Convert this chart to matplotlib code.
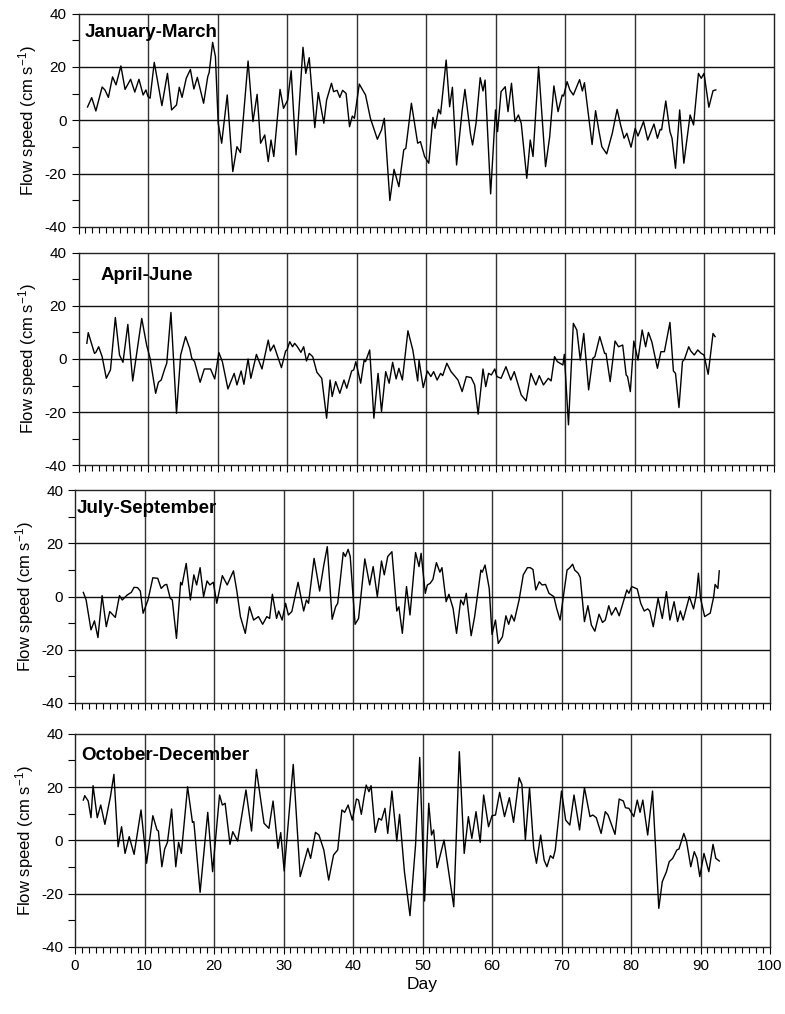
import matplotlib
matplotlib.use("Agg")
import matplotlib.pyplot as plt
from matplotlib.ticker import MultipleLocator

plt.rcParams['font.family'] = ['Liberation Sans', 'DejaVu Sans']
plt.rcParams['axes.unicode_minus'] = False
plt.rcParams['mathtext.fontset'] = 'custom'
plt.rcParams['mathtext.rm'] = 'Liberation Sans'
plt.rcParams['mathtext.it'] = 'Liberation Sans'
plt.rcParams['mathtext.default'] = 'regular'

# ---- data: (day, flow speed cm/s) ----
jan_mar = [(1.3,5),(1.9,8.5),(2.5,3.5),(3.4,12.5),(3.8,11.4),(4.3,8.6),(4.9,16.3),(5.4,13.3),(6.1,20.4),(6.7,11.6),
 (7.5,15.4),(8.1,10.6),(8.7,15.4),(9.3,9.5),(9.7,11.4),(10.0,8.9),(10.3,8.3),(10.9,21.75),(12.0,5.5),(12.8,17.6),
 (13.4,3.9),(14.1,5.75),(14.5,12.4),(14.9,8.6),(15.5,15.75),(16.1,19.1),(16.6,11.75),(17.1,16.1),(18.0,6.4),(18.6,16.4),
 (18.8,17.9),(19.3,29.25),(19.7,23.9),(20.1,-1.1),(20.6,-8.6),(21.4,9.5),(22.2,-19.25),(22.8,-9.9),(23.3,-12.1),(24.4,22.25),
 (25.1,-0.5),(25.7,9.75),(26.2,-8.6),(26.8,-5.5),(27.3,-15.5),(27.7,-7.4),(28.1,-13.6),(29.0,11.6),(29.5,4.5),(30.1,7.6),
 (30.6,18.6),(31.3,-13),(32.3,27.4),(32.7,17.6),(33.2,23.5),(34.0,-2.75),(34.5,10.4),(35.3,-1.1),(35.7,7.6),(36.4,13.9),
 (36.7,10.75),(37.2,11.25),(37.6,8.6),(38.0,11.25),(38.5,10.1),(39.0,-2.4),(39.4,1.6),(39.7,0.75),(40.4,13.6),(41.3,9.5),
 (42.0,0.75),(43.0,-7.1),(43.6,-3.6),(44.0,0.75),(44.8,-30.1),(45.4,-18.4),(46.1,-24.9),(46.8,-11.1),(47.1,-10.5),(47.9,6.4),
 (48.8,-8.6),(49.2,-8),(49.8,-13.6),(50.4,-16.1),(51.0,1.1),(51.3,-3),(51.8,4.1),(52.1,2.4),(52.9,22.6),(53.4,5.1),
 (53.8,12.4),(54.4,-16.75),(55.2,3.6),(55.6,11.6),(56.4,-5.1),(56.7,-9.25),(57.2,-1.1),(57.8,16),(58.2,11),(58.5,15.1),
 (59.3,-27.6),(60.0,3.9),(60.3,-4.25),(60.8,10.75),(61.4,12.6),(61.8,3.25),(62.3,13.9),(62.8,-0.5),(63.3,2),(63.7,-1.1),
 (64.5,-21.75),(65.0,-7.4),(65.4,-13.6),(66.2,20.1),(67.2,-17.4),(67.8,-6.1),(68.4,12.9),(69.0,3.25),(69.6,9.5),(69.8,9.1),
 (70.3,14.5),(70.7,11.4),(71.2,9.5),(72.1,15.25),(72.5,11),(72.8,14.1),(73.9,-9.1),(74.4,3.6),(74.9,-4.25),(75.3,-9.9),
 (76.0,-12.6),(76.8,-4.9),(77.5,4.1),(78.0,-1.75),(78.5,-6.75),(78.9,-4.9),(79.5,-10.1),(80.1,-3),(80.5,-5.9),(81.3,-0.5),
 (81.9,-7.4),(82.8,-1.4),(83.3,-6.75),(83.7,-3.4),(83.9,-3.6),(84.5,7.25),(85.1,-4.25),(85.4,-6.75),(85.9,-18),(86.5,3.9),
 (87.1,-16.1),(88.0,2),(88.5,-1.75),(89.2,17.6),(89.6,15.75),(90.0,17.6),(90.7,4.9),(91.3,11.1),(91.7,11.4)]

apr_jun = [(1.2,5.9),(1.4,9.9),(2.3,2.1),(2.5,2.5),(2.9,4.6),(3.4,0.9),(4.0,-7.25),(4.6,-4.1),(5.3,15.6),(5.9,1.5),
 (6.4,-1.25),(7.1,13),(7.8,-8.25),(9.1,15.25),(9.8,5.25),(10.3,0.25),(11.1,-12.9),(11.5,-8.75),(11.9,-7.9),(12.4,-3.75),
 (12.7,-1.6),(13.3,17.5),(14.1,-20.4),(14.7,1.5),(15.4,8.4),(16.0,4),(16.3,0.25),(16.7,-1),(17.5,-8.75),(18.1,-3.75),
 (19.0,-3.75),(19.6,-7.5),(20.2,2.4),(20.7,-1),(21.5,-11.25),(22.4,-5.4),(22.8,-9.75),(23.4,-4.5),(23.8,-9.5),(24.4,0),
 (24.8,-7.25),(25.6,1.75),(26.4,-3.75),(27.3,7.1),(27.6,3),(28.1,5.25),(29.2,-3.25),(29.8,3),(30.0,3.4),(30.4,6.5),
 (30.8,4.6),(31.1,5.9),(31.5,4.6),(32.0,2.5),(32.4,4.6),(32.8,-0.75),(33.2,2.1),(33.7,0.9),(34.3,-5),(35.0,-7.25),
 (35.7,-22.25),(36.2,-7.9),(36.5,-14.1),(37.0,-8.5),(37.6,-12.9),(38.2,-7.9),(38.6,-11),(39.3,-4.5),(39.6,-4.1),(39.9,-1),
 (40.6,-9.1),(41.1,-0.4),(41.3,-1),(41.9,3.4),(42.5,-22.25),(43.1,-5.4),(43.6,-19.75),(44.2,-4.75),(44.7,-9.1),(45.2,-1.25),
 (45.7,-7.5),(46.1,-3.5),(46.6,-7.9),(47.4,10.6),(48.1,3.4),(48.8,-8.25),(49.0,-0.4),(49.6,-10.75),(50.2,-4.5),(50.7,-6.6),
 (51.1,-4.75),(51.6,-7.9),(52.1,-5.4),(52.4,-6.25),(53.0,-1.6),(53.6,-4.75),(54.2,-6.6),(54.6,-7.9),(55.2,-12.25),(55.8,-6.6),
 (56.5,-7),(57.0,-9.75),(57.5,-20.75),(58.2,-3.75),(58.6,-10.4),(59.0,-5.4),(59.4,-6),(59.9,-3.75),(60.2,-6.6),(60.8,-7.25),
 (61.5,-2.9),(62.2,-7.9),(62.7,-4.75),(63.7,-13.5),(64.4,-15.75),(65.1,-5.4),(65.8,-9.75),(66.3,-6.25),(66.9,-9.75),(67.6,-7.25),
 (68.0,-8.25),(68.5,0.9),(68.9,-1),(69.7,-2.25),(69.9,1.75),(70.5,-24.75),(71.2,13.4),(71.7,10.9),(72.2,-0.4),(72.7,9.6),
 (73.4,-11.6),(74.0,0.25),(74.3,0.9),(75.0,8.4),(75.7,2.1),(75.9,2.1),(76.5,-8.5),(77.2,6.75),(77.7,4.6),(78.3,5.25),
 (78.8,-6),(79.0,-6.6),(79.4,-12.25),(79.9,6.75),(80.5,-0.4),(81.1,10.9),(81.6,4.6),(82.0,10),(82.5,6.4),(83.3,-3.5),
 (83.8,2.75),(84.3,2.75),(85.1,13.75),(85.6,-4.5),(85.9,-5.4),(86.4,-18.25),(86.9,-1),(87.2,0),(87.8,4.6),(88.1,3),
 (88.6,1.5),(89.1,3.4),(89.6,2.1),(90.0,1.5),(90.6,-5.75),(91.3,9.6),(91.6,8.4)]

jul_sep = [(1.2,1.6),(1.6,-1.25),(2.3,-12.5),(2.8,-9.1),(3.3,-15.4),(3.9,0.4),(4.5,-11.3),(5.0,-5.6),(5.8,-7.8),(6.4,0.4),
 (6.8,-1.25),(7.5,0.6),(8.1,1.6),(8.5,3.5),(9.0,3.4),(9.4,2.1),(9.8,-6.25),(10.5,-1.25),(11.2,7.1),(11.9,6.9),
 (12.4,3.1),(12.9,4.4),(13.2,4.6),(13.7,-0.6),(14.0,-1.25),(14.6,-15.7),(15.2,5.4),(15.4,4.4),(16.0,12.5),(16.6,-1.25),
 (17.1,8.2),(17.5,4.4),(18.0,10.9),(18.5,0),(19.0,5.9),(19.4,4.4),(19.9,5.4),(20.4,-2.5),(21.2,7.9),(21.9,4.4),
 (22.8,9.7),(23.3,1.9),(23.8,-7.5),(24.5,-13.8),(25.1,-3.8),(25.7,-8.8),(26.4,-7.5),(27.0,-10.4),(27.6,-7.5),(28.0,-8.2),
 (28.4,0.9),(29.0,-8.2),(29.3,-5.4),(29.8,-8.8),(30.3,-2.5),(30.7,-6.9),(31.2,-5.6),(32.1,5.4),(32.9,-5.4),(33.3,-1.25),
 (33.6,-2.5),(34.4,14.4),(35.2,2.1),(35.8,11.9),(36.3,18.8),(37.0,-8.5),(37.5,-3.8),(37.8,-2.5),(38.6,16.6),(38.9,15.1),
 (39.3,17.8),(39.6,15.1),(40.3,-10.4),(40.8,-8.2),(41.7,14.2),(42.4,4.4),(42.9,11.3),(43.5,0),(44.1,13.4),(44.5,8.2),
 (45.0,15.1),(45.6,16.9),(46.3,-5.4),(46.6,-3.8),(47.1,-13.8),(47.7,3.8),(48.2,-6.9),(49.0,16.6),(49.5,11.3),(49.8,16.3),
 (50.4,1.25),(50.7,4.4),(51.1,5.0),(51.5,6.5),(52.0,12.8),(52.5,9.2),(52.8,10.9),(53.4,-1.9),(53.8,0.9),(54.4,-4.4),
 (54.9,-13.8),(55.5,-1.25),(55.9,-3.1),(56.3,1.25),(57.0,-14.7),(57.5,-7.5),(58.4,10),(58.6,9.2),(59.0,11.9),(59.6,3.1),
 (60.0,-14.2),(60.5,-8.8),(60.9,-17.6),(61.5,-15.1),(62.0,-7.2),(62.4,-10.4),(62.8,-6.9),(63.2,-9.2),(63.9,-1.25),(64.5,8.2),
 (65.1,10.9),(65.5,10.9),(65.9,10.2),(66.3,2.5),(66.8,5.6),(67.2,4.4),(67.7,4.6),(68.2,1.25),(68.9,0),(69.3,-4.4),
 (69.8,-8.8),(70.8,10),(71.2,10.9),(71.6,12.2),(71.9,10),(72.4,8.8),(72.7,7.2),(73.3,-9.4),(73.8,-3.4),(74.3,-10.7),
 (74.8,-13),(75.4,-6.6),(75.9,-9.7),(76.3,-8.8),(76.8,-3.4),(77.2,-6.9),(77.8,-4.1),(78.3,-7.2),(78.9,-1.9),(79.4,2.5),
 (79.7,1.25),(80.1,3.8),(80.9,2.9),(81.4,-2.5),(81.9,-5.4),(82.4,-4.6),(82.7,-5.4),(83.2,-11.3),(83.9,-0.6),(84.5,-8.2),
 (85.1,1.9),(85.6,-8.8),(86.2,-1.9),(86.7,-9.4),(87.1,-5.4),(87.5,-8.8),(88.4,0),(89.0,-4.6),(89.4,0.6),(89.7,8.8),
 (90.0,-0.6),(90.6,-7.5),(91.4,-6.2),(91.9,0),(92.1,4.6),(92.5,3.1),(92.7,9.7)]

oct_dec = [(1.2,15.1),(1.4,16.75),(1.9,14.75),(2.3,8.5),(2.6,20.5),(3.2,8.5),(3.7,13.25),(4.3,6),(5.1,16.4),(5.6,24.75),
 (6.2,-2.4),(6.7,5.1),(7.2,-4.9),(7.8,1.4),(8.5,-5.25),(9.5,11.4),(10.3,-8.6),(11.2,9.25),(11.8,3.9),(12.0,3.5),
 (12.5,-9.9),(12.9,-3.25),(13.3,-0.75),(13.9,11.75),(14.5,-9.9),(14.9,-0.75),(15.3,-4.9),(16.2,20.1),(16.9,6.75),(17.1,7),
 (18.0,-19.5),(19.1,10.5),(19.8,-11.75),(20.8,17),(21.2,13.25),(21.6,13.9),(22.3,-1.5),(22.7,3.25),(23.4,-0.25),(24.6,18.9),
 (25.4,3.5),(26.1,26.6),(27.2,6.4),(27.9,4.5),(28.5,14.75),(29.2,-3),(29.6,2.9),(30.1,-11.5),(31.4,28.5),(32.4,-13.6),
 (33.0,-7.75),(33.5,-3),(33.9,-6.75),(34.6,3),(35.1,2),(35.8,-3.6),(36.5,-14.9),(37.2,-5.5),(37.8,-3.6),(38.4,11.4),
 (38.8,10.5),(39.3,13.25),(39.9,7.6),(40.5,15.5),(40.8,15.1),(41.2,9.75),(41.6,16.4),(41.9,20.75),(42.3,18.25),(42.6,20.5),
 (43.2,3),(43.7,8.25),(44.1,7.6),(44.6,12),(45.0,2.6),(45.6,18.5),(46.3,-0.25),(46.7,9.75),(47.4,-11.75),(48.2,-28.25),
 (49.0,-1.75),(49.6,31.1),(50.3,-22.75),(50.9,13.9),(51.3,2),(51.6,3.9),(52.1,-10.25),(53.1,0.1),(53.9,-14.25),(54.5,-24.9),
 (55.3,33.25),(56.0,-4.9),(56.6,8.9),(57.1,0.75),(57.7,10.75),(58.3,-0.75),(58.8,17),(59.5,5.1),(60.0,9.25),(60.5,9.5),
 (61.1,18),(61.8,8.9),(62.5,16),(63.1,6.75),(63.9,23.5),(64.3,21),(64.8,0.1),(65.4,19.75),(66.0,-3),(66.4,-8.6),
 (67.0,2),(67.5,-7.4),(67.9,-9.9),(68.4,-5.75),(68.8,-6.75),(69.1,-3.6),(70.0,18.5),(70.6,7.6),(71.2,5.75),(71.8,17),
 (72.6,3.9),(73.3,19.75),(74.1,8.9),(74.5,9.5),(75.0,8.5),(75.7,2.6),(76.3,10.75),(76.7,9.5),(77.7,2.25),(78.3,15.5),
 (78.9,14.75),(79.2,12.25),(79.7,12),(80.4,8.9),(80.9,15.1),(81.3,10.5),(81.7,15.1),(82.4,2),(83.1,18.5),(84.0,-25.5),
 (84.5,-15.5),(85.1,-11.75),(85.5,-8),(86.0,-6.75),(86.6,-3.6),(86.9,-3.25),(87.6,2.6),(88.0,-0.5),(88.6,-9.9),(89.1,-4.25),
 (89.5,-6.75),(89.9,-13.6),(90.5,-4.9),(91.2,-11.75),(91.8,-1.5),(92.2,-6.75),(92.7,-7.75)]

panel_titles = ["January-March", "April-June", "July-September", "October-December"]
panel_series = [jan_mar, apr_jun, jul_sep, oct_dec]
x_ticks = [0, 10, 20, 30, 40, 50, 60, 70, 80, 90, 100]
y_ticks = [-40, -20, 0, 20, 40]

W, H = 785, 1014
fig = plt.figure(figsize=(W / 100, H / 100), dpi=100)

# axes boxes in pixels: (left, top, width, height)
boxes = [(78.5, 13.7, 695, 213.2), (78.5, 252.6, 695, 212.8),
         (75.0, 490.3, 695, 212.7), (75.0, 733.7, 695, 213.3)]
title_pos = [(0.009, 0.889), (0.032, 0.871), (0.002, 0.892), (0.009, 0.876)]

for i, (series, title, box) in enumerate(zip(panel_series, panel_titles, boxes)):
    l, t, w, h = box
    ax = fig.add_axes([l / W, 1 - (t + h) / H, w / W, h / H])
    days = [p[0] for p in series]
    vals = [p[1] for p in series]
    ax.set_xlim(0, 100)
    ax.set_ylim(-40, 40)
    for gx in range(10, 100, 10):
        ax.axvline(gx, color='#333333', lw=1.0, zorder=1)
    for gy in (-20, 0, 20):
        ax.axhline(gy, color='#111111', lw=1.0, zorder=1)
    ax.plot(days, vals, color='black', lw=1.0, zorder=3)
    ax.set_xticks(x_ticks)
    ax.set_yticks(y_ticks)
    ax.xaxis.set_minor_locator(MultipleLocator(1))
    ax.yaxis.set_minor_locator(MultipleLocator(10))
    ax.tick_params(axis='both', which='both', direction='out', color='black', width=0.8)
    ax.tick_params(axis='x', which='major', length=5)
    ax.tick_params(axis='x', which='minor', length=4)
    ax.tick_params(axis='y', which='major', length=5, labelsize=11)
    ax.tick_params(axis='y', which='minor', length=5)
    if i < 3:
        ax.tick_params(axis='x', which='both', labelbottom=False)
    else:
        ax.tick_params(axis='x', which='major', labelsize=11)
        ax.set_xlabel("Day", fontsize=12.5, labelpad=3)
    for sp in ax.spines.values():
        sp.set_color('#222222')
        sp.set_linewidth(1.0)
    ax.set_ylabel("Flow speed (cm s$^{-1}$)", fontsize=12, labelpad=4)
    ax.text(title_pos[i][0], title_pos[i][1], title, transform=ax.transAxes,
            fontsize=13.5, fontweight='bold', ha='left', va='baseline', zorder=4)

fig.savefig("out.png", dpi=100)
